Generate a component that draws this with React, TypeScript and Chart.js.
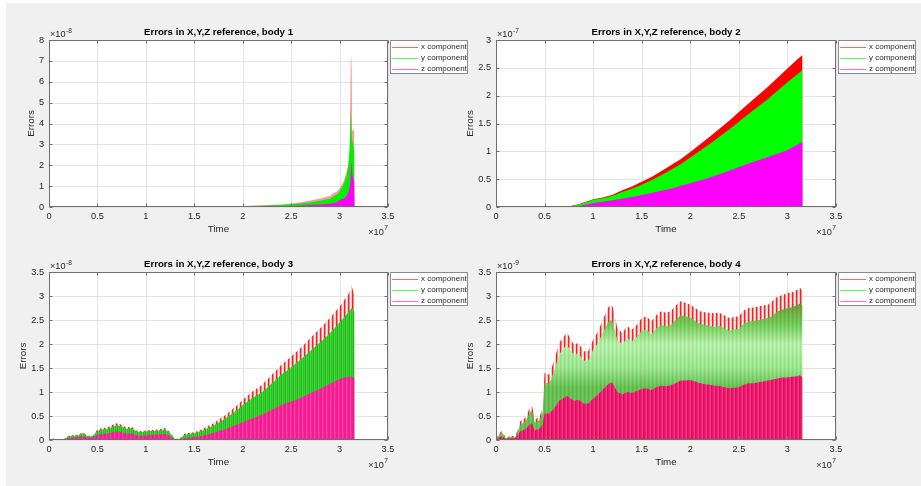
import { useEffect, useRef } from "react";
import { Chart, registerables } from "chart.js";

Chart.register(...registerables);

const FIG_W = 921;
const FIG_H = 486;
const FONT = '"Liberation Sans", Arial, Helvetica, sans-serif';
const TEXT = "#262626";
const AXIS = "#6e6e6e";
const GRID = "#e4e4e4";

const TICK_PX = 9.2;
const LABEL_PX = 9.8;
const TITLE_PX = 9.7;
const LEGEND_PX = 8;

// Time axis (units of 1e7 s)
const TIME_TICKS = [0, 0.5, 1, 1.5, 2, 2.5, 3, 3.5];
const SERIES_NAMES = ["x component", "y component", "z component"];

// Body 1 — errors in units of 1e-8
const TIME_B1 = [0, 1.0, 1.5, 2.0, 2.2, 2.4, 2.5, 2.6, 2.7, 2.8, 2.9, 2.93, 2.97, 3.0, 3.04, 3.07, 3.09, 3.105, 3.115, 3.12, 3.125, 3.13, 3.14, 3.15, 3.155, 3.156];
const ERR_X_B1 = [0.005, 0.01, 0.02, 0.05, 0.08, 0.12, 0.17, 0.23, 0.31, 0.41, 0.53, 0.65, 0.73, 0.89, 1.21, 1.64, 2.0, 2.6, 7.0, 7.27, 6.5, 3.6, 3.7, 3.72, 3.0, 0];
const ERR_Y_B1 = [0.003, 0.008, 0.015, 0.04, 0.06, 0.09, 0.13, 0.17, 0.23, 0.3, 0.4, 0.48, 0.6, 0.73, 1.05, 1.45, 2.0, 2.9, 4.64, 4.2, 3.5, 3.2, 3.0, 2.7, 2.0, 0];
const ERR_Z_B1 = [0.002, 0.004, 0.008, 0.02, 0.03, 0.04, 0.05, 0.07, 0.09, 0.12, 0.15, 0.18, 0.22, 0.33, 0.4, 0.49, 0.7, 0.97, 1.5, 2.2, 2.0, 1.6, 1.37, 1.3, 1.2, 0];
const Y_TICKS_B1 = [0, 1, 2, 3, 4, 5, 6, 7, 8];

// Body 2 — errors in units of 1e-7
const TIME_B2 = [0, 0.2, 0.4, 0.48, 0.55, 0.7, 0.75, 0.8, 0.85, 0.9, 0.95, 1.0, 1.1, 1.2, 1.3, 1.4, 1.5, 1.6, 1.7, 1.8, 1.9, 2.0, 2.2, 2.4, 2.6, 2.8, 3.0, 3.1, 3.155, 3.156];
const ERR_X_B2 = [0.002, 0.004, 0.006, 0.015, 0.005, 0.003, 0.005, 0.03, 0.05, 0.08, 0.11, 0.14, 0.17, 0.22, 0.3, 0.37, 0.455, 0.54, 0.64, 0.75, 0.86, 0.99, 1.26, 1.55, 1.86, 2.16, 2.49, 2.65, 2.73, 0];
const ERR_Y_B2 = [0.002, 0.003, 0.005, 0.013, 0.004, 0.002, 0.004, 0.025, 0.045, 0.07, 0.1, 0.13, 0.155, 0.2, 0.27, 0.33, 0.4, 0.48, 0.57, 0.67, 0.77, 0.89, 1.13, 1.39, 1.67, 1.94, 2.24, 2.38, 2.46, 0];
const ERR_Z_B2 = [0.001, 0.002, 0.003, 0.008, 0.002, 0.001, 0.002, 0.01, 0.02, 0.035, 0.05, 0.07, 0.095, 0.12, 0.15, 0.18, 0.215, 0.25, 0.29, 0.33, 0.38, 0.425, 0.53, 0.65, 0.78, 0.9, 1.02, 1.12, 1.17, 0];
const Y_TICKS_B2 = [0, 0.5, 1, 1.5, 2, 2.5, 3];

// Body 3 — errors in units of 1e-8
const TIME_B3 = [0, 0.05, 0.1, 0.15, 0.2, 0.25, 0.3, 0.35, 0.4, 0.45, 0.5, 0.55, 0.6, 0.65, 0.7, 0.75, 0.8, 0.85, 0.9, 0.95, 1.0, 1.05, 1.1, 1.15, 1.2, 1.25, 1.3, 1.35, 1.4, 1.45, 1.5, 1.55, 1.6, 1.65, 1.7, 1.75, 1.8, 1.85, 1.9, 1.95, 2.0, 2.05, 2.1, 2.15, 2.2, 2.25, 2.3, 2.35, 2.4, 2.45, 2.5, 2.55, 2.6, 2.65, 2.7, 2.75, 2.8, 2.85, 2.9, 2.95, 3.0, 3.05, 3.1, 3.12, 3.14, 3.155, 3.156];
const ERR_X_B3 = [0.01, 0.03, 0.01, 0.01, 0.09, 0.1, 0.11, 0.16, 0.09, 0.09, 0.22, 0.25, 0.26, 0.31, 0.35, 0.32, 0.26, 0.28, 0.2, 0.18, 0.2, 0.21, 0.215, 0.23, 0.25, 0.16, 0.02, 0.03, 0.13, 0.15, 0.16, 0.2, 0.25, 0.3, 0.35, 0.42, 0.49, 0.57, 0.65, 0.74, 0.84, 0.92, 1.01, 1.08, 1.15, 1.25, 1.36, 1.46, 1.57, 1.65, 1.74, 1.83, 1.92, 2.02, 2.13, 2.23, 2.33, 2.43, 2.54, 2.66, 2.78, 2.92, 3.06, 3.24, 3.1, 3.0, 0];
const ERR_Y_B3 = [0.01, 0.025, 0.01, 0.01, 0.08, 0.09, 0.1, 0.14, 0.08, 0.08, 0.19, 0.22, 0.23, 0.27, 0.31, 0.28, 0.23, 0.25, 0.18, 0.16, 0.18, 0.19, 0.19, 0.2, 0.22, 0.14, 0.02, 0.025, 0.11, 0.13, 0.14, 0.17, 0.21, 0.26, 0.3, 0.36, 0.42, 0.49, 0.56, 0.64, 0.73, 0.8, 0.88, 0.94, 1.0, 1.09, 1.18, 1.27, 1.37, 1.44, 1.52, 1.6, 1.68, 1.77, 1.86, 1.95, 2.04, 2.13, 2.23, 2.34, 2.45, 2.57, 2.68, 2.75, 2.72, 2.65, 0];
const ERR_Z_B3 = [0.005, 0.015, 0.005, 0.005, 0.04, 0.05, 0.06, 0.08, 0.05, 0.05, 0.11, 0.13, 0.13, 0.16, 0.18, 0.16, 0.13, 0.14, 0.1, 0.09, 0.1, 0.11, 0.11, 0.12, 0.13, 0.08, 0.01, 0.01, 0.04, 0.05, 0.06, 0.08, 0.1, 0.12, 0.15, 0.18, 0.21, 0.25, 0.29, 0.33, 0.37, 0.41, 0.45, 0.49, 0.53, 0.58, 0.63, 0.68, 0.73, 0.77, 0.8, 0.84, 0.88, 0.93, 0.98, 1.02, 1.07, 1.12, 1.17, 1.22, 1.27, 1.3, 1.32, 1.33, 1.3, 1.28, 0];
const Y_TICKS_B3 = [0, 0.5, 1, 1.5, 2, 2.5, 3, 3.5];

// Body 4 — errors in units of 1e-9
const TIME_B4 = [0, 0.02, 0.06, 0.1, 0.15, 0.2, 0.25, 0.3, 0.35, 0.37, 0.4, 0.45, 0.48, 0.5, 0.55, 0.6, 0.65, 0.7, 0.73, 0.8, 0.85, 0.9, 0.95, 1.0, 1.05, 1.1, 1.15, 1.18, 1.2, 1.25, 1.3, 1.35, 1.4, 1.45, 1.5, 1.55, 1.6, 1.65, 1.7, 1.75, 1.8, 1.85, 1.9, 1.95, 2.0, 2.05, 2.1, 2.15, 2.2, 2.25, 2.3, 2.35, 2.4, 2.45, 2.5, 2.55, 2.6, 2.65, 2.7, 2.75, 2.8, 2.85, 2.9, 2.95, 3.0, 3.05, 3.1, 3.13, 3.155, 3.156];
const ERR_X_B4 = [0.05, 0.1, 0.2, 0.04, 0.09, 0.08, 0.39, 0.46, 0.67, 0.72, 0.42, 0.49, 0.67, 1.4, 1.36, 1.67, 2.02, 2.16, 2.24, 1.99, 2.02, 1.85, 1.85, 2.09, 2.26, 2.5, 2.75, 2.82, 2.78, 2.33, 2.23, 2.37, 2.3, 2.4, 2.54, 2.58, 2.47, 2.6, 2.68, 2.65, 2.68, 2.8, 2.89, 2.86, 2.82, 2.75, 2.68, 2.66, 2.65, 2.64, 2.65, 2.6, 2.54, 2.56, 2.58, 2.7, 2.75, 2.76, 2.78, 2.8, 2.82, 2.9, 2.99, 3.02, 3.06, 3.08, 3.13, 3.17, 3.1, 0];
const ERR_Y_B4 = [0.04, 0.08, 0.16, 0.03, 0.07, 0.06, 0.32, 0.38, 0.58, 0.62, 0.36, 0.42, 0.58, 1.2, 1.18, 1.45, 1.78, 1.92, 1.98, 1.78, 1.8, 1.65, 1.66, 1.88, 2.02, 2.24, 2.45, 2.5, 2.47, 2.08, 2.0, 2.12, 2.06, 2.15, 2.27, 2.3, 2.2, 2.33, 2.4, 2.37, 2.4, 2.5, 2.6, 2.58, 2.55, 2.48, 2.42, 2.4, 2.38, 2.36, 2.38, 2.33, 2.28, 2.3, 2.32, 2.42, 2.47, 2.48, 2.5, 2.52, 2.54, 2.6, 2.68, 2.72, 2.75, 2.77, 2.81, 2.85, 2.8, 0];
const ERR_Z_B4 = [0.02, 0.04, 0.08, 0.02, 0.04, 0.04, 0.18, 0.22, 0.33, 0.35, 0.2, 0.24, 0.33, 0.55, 0.55, 0.66, 0.82, 0.88, 0.92, 0.82, 0.84, 0.76, 0.76, 0.86, 0.95, 1.05, 1.15, 1.2, 1.18, 1.0, 0.95, 1.0, 0.98, 1.02, 1.06, 1.08, 1.04, 1.1, 1.13, 1.12, 1.14, 1.18, 1.24, 1.24, 1.25, 1.22, 1.18, 1.16, 1.15, 1.13, 1.13, 1.1, 1.08, 1.09, 1.1, 1.15, 1.18, 1.18, 1.2, 1.22, 1.24, 1.26, 1.28, 1.3, 1.3, 1.32, 1.33, 1.35, 1.3, 0];
const Y_TICKS_B4 = [0, 0.5, 1, 1.5, 2, 2.5, 3, 3.5];

type Look = "solidSoft" | "solid" | "dense" | "denseLight";

type PanelSpec = {
  title: string;
  time: number[];
  ex: number[];
  ey: number[];
  ez: number[];
  yTicks: number[];
  yExp: string;
  area: [number, number, number, number];
  look: Look;
};

const PANELS: PanelSpec[] = [
  { title: "Errors in X,Y,Z reference, body 1", time: TIME_B1, ex: ERR_X_B1, ey: ERR_Y_B1, ez: ERR_Z_B1, yTicks: Y_TICKS_B1, yExp: "-8", area: [49, 40, 388, 207], look: "solidSoft" },
  { title: "Errors in X,Y,Z reference, body 2", time: TIME_B2, ex: ERR_X_B2, ey: ERR_Y_B2, ez: ERR_Z_B2, yTicks: Y_TICKS_B2, yExp: "-7", area: [496, 40, 836, 207], look: "solid" },
  { title: "Errors in X,Y,Z reference, body 3", time: TIME_B3, ex: ERR_X_B3, ey: ERR_Y_B3, ez: ERR_Z_B3, yTicks: Y_TICKS_B3, yExp: "-8", area: [49, 272, 388, 440], look: "dense" },
  { title: "Errors in X,Y,Z reference, body 4", time: TIME_B4, ex: ERR_X_B4, ey: ERR_Y_B4, ez: ERR_Z_B4, yTicks: Y_TICKS_B4, yExp: "-9", area: [496, 272, 836, 440], look: "denseLight" },
];

const LEGEND_LINES = ["rgba(255,0,0,0.6)", "rgba(0,230,0,0.6)", "rgba(255,0,255,0.6)"];

function stripes(cols: string[]): CanvasPattern | string {
  const c = document.createElement("canvas");
  c.width = cols.length;
  c.height = 1;
  const g = c.getContext("2d");
  if (!g) return cols[0];
  cols.forEach((col, i) => {
    g.fillStyle = col;
    g.fillRect(i, 0, 1, 1);
  });
  return g.createPattern(c, "repeat") || cols[0];
}

function valueGradient(stops: [number, string][], yMax: number) {
  return (context: any) => {
    const chart = context.chart;
    const sy = chart.scales && chart.scales.y;
    if (!chart.chartArea || !sy) return stops[0][1];
    const y0 = sy.getPixelForValue(0);
    const y1 = sy.getPixelForValue(yMax);
    const g = chart.ctx.createLinearGradient(0, y0, 0, y1);
    stops.forEach(([v, c]) => g.addColorStop(Math.min(1, Math.max(0, v / yMax)), c));
    return g;
  };
}

function fillsFor(look: Look, yMax: number): any[] {
  const redDense = stripes(["#ff1e1e", "rgba(255,50,50,0.6)", "rgba(255,0,0,0)", "rgba(255,90,90,0.35)"]);
  if (look === "solidSoft") return ["rgba(255,50,50,0.5)", "#00f000", "#ff00ff"];
  if (look === "solid") return ["#ff0000", "#00ff00", "#ff00ff"];
  if (look === "dense")
    return [
      redDense,
      stripes(["#2fd62f", "#4a9e2a", "#36e636", "#22c822"]),
      stripes(["#ff1a8c", "#ff1493", "#d04ad0", "#ff2a70"]),
    ];
  return [
    redDense,
    valueGradient(
      [
        [1.1, "rgba(80,196,72,0.88)"],
        [1.5, "rgba(140,238,140,0.88)"],
        [2.0, "rgba(170,250,170,0.88)"],
        [2.4, "rgba(96,208,80,0.88)"],
        [2.8, "rgba(90,160,48,0.9)"],
      ],
      yMax
    ),
    stripes(["#e8194d", "#f0206e", "#ff30c8", "#e0103c"]),
  ];
}

const fmt = (v: number) => String(Math.round(v * 100) / 100);
const snap = (v: number) => Math.round(v) + 0.5;

function drawPower(ctx: CanvasRenderingContext2D, x: number, y: number, exp: string, align: "left" | "right") {
  const base = "\u00d710";
  ctx.font = `${TICK_PX}px ${FONT}`;
  const bw = ctx.measureText(base).width;
  ctx.font = `${TICK_PX * 0.72}px ${FONT}`;
  const ew = ctx.measureText(exp).width;
  const x0 = align === "left" ? x : x - bw - ew - 0.5;
  ctx.textAlign = "left";
  ctx.textBaseline = "middle";
  ctx.font = `${TICK_PX}px ${FONT}`;
  ctx.fillText(base, x0, y);
  ctx.font = `${TICK_PX * 0.72}px ${FONT}`;
  ctx.fillText(exp, x0 + bw + 0.5, y - 3.8);
}

function axesPlugin(spec: PanelSpec) {
  return {
    id: "matlabAxes",
    beforeDatasetsDraw(chart: any) {
      const { ctx, chartArea: a, scales } = chart;
      ctx.save();
      ctx.fillStyle = "#ffffff";
      ctx.fillRect(a.left, a.top, a.right - a.left, a.bottom - a.top);
      ctx.strokeStyle = GRID;
      ctx.lineWidth = 1;
      ctx.beginPath();
      for (const t of TIME_TICKS) {
        const x = snap(scales.x.getPixelForValue(t));
        ctx.moveTo(x, a.top);
        ctx.lineTo(x, a.bottom);
      }
      for (const v of spec.yTicks) {
        const y = snap(scales.y.getPixelForValue(v));
        ctx.moveTo(a.left, y);
        ctx.lineTo(a.right, y);
      }
      ctx.stroke();
      ctx.restore();
    },
    afterDatasetsDraw(chart: any) {
      const { ctx, chartArea: a, scales } = chart;
      const L = snap(a.left), R = snap(a.right - 1), T = snap(a.top), B = snap(a.bottom - 1);
      ctx.save();
      ctx.strokeStyle = AXIS;
      ctx.lineWidth = 1;
      ctx.strokeRect(L, T, R - L, B - T);
      ctx.beginPath();
      const tl = 3;
      for (const t of TIME_TICKS) {
        const x = snap(scales.x.getPixelForValue(t));
        ctx.moveTo(x, B);
        ctx.lineTo(x, B - tl);
        ctx.moveTo(x, T);
        ctx.lineTo(x, T + tl);
      }
      for (const v of spec.yTicks) {
        const y = snap(scales.y.getPixelForValue(v));
        ctx.moveTo(L, y);
        ctx.lineTo(L + tl, y);
        ctx.moveTo(R, y);
        ctx.lineTo(R - tl, y);
      }
      ctx.stroke();
      ctx.restore();
    },
    afterDraw(chart: any) {
      const { ctx, chartArea: a, scales } = chart;
      ctx.save();
      ctx.fillStyle = TEXT;
      ctx.font = `${TICK_PX}px ${FONT}`;
      ctx.textAlign = "center";
      ctx.textBaseline = "middle";
      for (const t of TIME_TICKS) ctx.fillText(fmt(t), scales.x.getPixelForValue(t), a.bottom + 9);
      ctx.textAlign = "right";
      let maxW = 0;
      for (const v of spec.yTicks) {
        const s = fmt(v);
        maxW = Math.max(maxW, ctx.measureText(s).width);
        ctx.fillText(s, a.left - 5, scales.y.getPixelForValue(v));
      }
      drawPower(ctx, a.left + 1, a.top - 5.5, spec.yExp, "left");
      drawPower(ctx, a.right, a.bottom + 25, "7", "right");

      ctx.font = `${LABEL_PX}px ${FONT}`;
      ctx.textAlign = "center";
      ctx.textBaseline = "middle";
      ctx.fillText("Time", (a.left + a.right) / 2, a.bottom + 22);
      ctx.save();
      ctx.translate(a.left - 5 - maxW - 8, (a.top + a.bottom) / 2);
      ctx.rotate(-Math.PI / 2);
      ctx.fillText("Errors", 0, 0);
      ctx.restore();

      ctx.font = `bold ${TITLE_PX}px ${FONT}`;
      ctx.fillStyle = "#000000";
      ctx.fillText(spec.title, (a.left + a.right) / 2, a.top - 8);

      // legend box to the right of the axes
      const lx = Math.round(a.right) + 2;
      const ly = Math.round(a.top);
      const lw = 78;
      const lh = 34;
      ctx.fillStyle = "#ffffff";
      ctx.fillRect(lx, ly, lw, lh);
      ctx.strokeStyle = "#8a8a8a";
      ctx.strokeRect(lx + 0.5, ly + 0.5, lw - 1, lh - 1);
      ctx.font = `${LEGEND_PX}px ${FONT}`;
      ctx.textAlign = "left";
      SERIES_NAMES.forEach((name, i) => {
        const ry = ly + 6.5 + i * 11;
        ctx.strokeStyle = LEGEND_LINES[i];
        ctx.beginPath();
        ctx.moveTo(lx + 2, Math.round(ry) + 0.5);
        ctx.lineTo(lx + 28, Math.round(ry) + 0.5);
        ctx.stroke();
        ctx.fillStyle = TEXT;
        ctx.fillText(name, lx + 31, ry + 0.5);
      });
      ctx.restore();
    },
  };
}

function Panel({ spec }: { spec: PanelSpec }) {
  const ref = useRef<HTMLCanvasElement>(null);
  useEffect(() => {
    const canvas = ref.current;
    if (!canvas) return;
    const yMax = spec.yTicks[spec.yTicks.length - 1];
    const fills = fillsFor(spec.look, yMax);
    const series = [spec.ex, spec.ey, spec.ez];
    const [l, t, r, b] = spec.area;
    const chart = new Chart(canvas, {
      type: "line",
      data: {
        datasets: series.map((vals, i) => ({
          label: SERIES_NAMES[i],
          data: spec.time.map((tm, k) => ({ x: tm, y: vals[k] })),
          borderWidth: 0,
          pointRadius: 0,
          tension: 0,
          fill: "origin",
          backgroundColor: fills[i],
          borderColor: "rgba(0,0,0,0)",
          order: 3 - i,
        })),
      },
      options: {
        responsive: false,
        devicePixelRatio: 1,
        animation: false,
        events: [],
        layout: { padding: { left: l, top: t, right: FIG_W - r, bottom: FIG_H - b } },
        scales: {
          x: { type: "linear", display: false, min: 0, max: 3.5 },
          y: { type: "linear", display: false, min: 0, max: yMax },
        },
        plugins: {
          legend: { display: false },
          tooltip: { enabled: false },
          title: { display: false },
        },
      },
      plugins: [axesPlugin(spec)],
    } as any);
    return () => chart.destroy();
  }, [spec]);
  return (
    <canvas
      ref={ref}
      width={FIG_W}
      height={FIG_H}
      style={{ position: "absolute", left: 0, top: 0, width: FIG_W, height: FIG_H }}
    />
  );
}

export default function App() {
  return (
    <div style={{ position: "fixed", left: 0, top: 0, width: FIG_W, height: FIG_H, background: "#ffffff", overflow: "hidden" }}>
      <div style={{ position: "absolute", left: 6, top: 3, right: 0, bottom: 0, background: "#f0f0f0" }} />
      {PANELS.map((p) => (
        <Panel key={p.title} spec={p} />
      ))}
    </div>
  );
}
